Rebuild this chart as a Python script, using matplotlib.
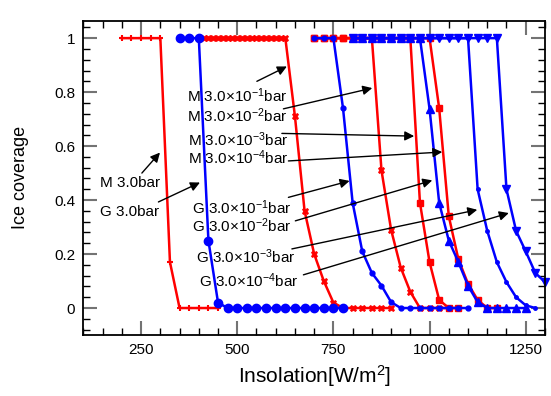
import numpy as np
import matplotlib.pyplot as plt
from matplotlib.ticker import MultipleLocator

plt.rcParams['font.family'] = ['Liberation Sans', 'DejaVu Sans']
plt.rcParams['mathtext.default'] = 'regular'

# M runs (red)
m30_x = [200, 225, 250, 275, 300, 325, 350, 375, 400, 425, 450]
m30_y = [1, 1, 1, 1, 1, 0.17, 0, 0, 0, 0, 0]

m31_x = [412.5, 425, 437.5, 450, 462.5, 475, 487.5, 500, 512.5, 525, 537.5, 550,
         562.5, 575, 587.5, 600, 612.5, 625, 650, 675, 700, 725, 750,
         775, 800, 825, 850, 875, 900]
m31_y = [1] * 18 + [0.71, 0.36, 0.20, 0.10, 0.02, 0, 0, 0, 0, 0, 0]

m32_x = [700, 725, 750, 775, 800, 825, 850, 875, 900, 925, 950, 975, 1000, 1025, 1050]
m32_y = [1, 1, 1, 1, 1, 1, 1, 0.51, 0.29, 0.15, 0.06, 0, 0, 0, 0]

m33_x = [700, 725, 750, 775, 800, 825, 850, 875, 900, 925, 950, 975, 1000, 1025, 1050, 1075]
m33_y = [1, 1, 1, 1, 1, 1, 1, 1, 1, 1, 1, 0.39, 0.17, 0.03, 0, 0]

m34_x = [700, 725, 750, 775, 800, 825, 850, 875, 900, 925, 950, 975, 1000,
         1025, 1050, 1075, 1100, 1125, 1150, 1175]
m34_y = [1] * 13 + [0.74, 0.34, 0.18, 0.09, 0.03, 0, 0]

# G runs (blue)
g30_x = [350, 375, 400, 425, 450, 475, 500, 525, 550, 575, 600, 625, 650, 675, 700, 725, 750, 775]
g30_y = [1, 1, 1, 0.25, 0.02] + [0] * 13

g31_x = [700, 725, 750, 775, 800, 825, 850, 875, 900, 925, 950, 975, 1000, 1025, 1050, 1075, 1100]
g31_y = [1, 1, 1, 0.74, 0.39, 0.21, 0.13, 0.083, 0.022, 0, 0, 0, 0, 0, 0, 0, 0]

g32_x = [800, 825, 850, 875, 900, 925, 950, 975, 1000, 1025, 1050, 1075, 1100, 1125,
         1150, 1175, 1200, 1225, 1250]
g32_y = [1] * 8 + [0.738, 0.39, 0.25, 0.17, 0.083, 0.022, 0, 0, 0, 0, 0]

g33_x = [800, 825, 850, 875, 900, 925, 950, 975, 1000, 1025, 1050, 1075, 1100,
         1125, 1150, 1175, 1200, 1225, 1250, 1275]
g33_y = [1] * 13 + [0.44, 0.286, 0.17, 0.096, 0.04, 0.01, 0]

g34_x = [800, 825, 850, 875, 900, 925, 950, 975, 1000, 1025, 1050, 1075, 1100, 1125,
         1150, 1175, 1200, 1225, 1250, 1275, 1300]
g34_y = [1] * 16 + [0.44, 0.286, 0.21, 0.13, 0.096]

fig = plt.figure(figsize=(5.51, 3.96), dpi=100)
ax = fig.add_axes([0.1514, 0.154, 0.8376, 0.794])

lw = 1.8
ax.plot(m30_x, m30_y, color='red', lw=lw, marker='+', ms=5, mew=1.5, clip_on=False)
ax.plot(m31_x, m31_y, color='red', lw=lw, marker='X', ms=5, mew=0.5, clip_on=False)
ax.plot(m32_x, m32_y, color='red', lw=lw, marker='X', ms=5, mew=0.5, clip_on=False)
ax.plot(m33_x, m33_y, color='red', lw=lw, marker='s', ms=5, clip_on=False)
ax.plot(m34_x, m34_y, color='red', lw=lw, marker='s', ms=4.5, clip_on=False)

ax.plot(g30_x, g30_y, color='blue', lw=lw, marker='o', ms=6, clip_on=False)
ax.plot(g31_x, g31_y, color='blue', lw=lw, marker='o', ms=3.5, clip_on=False)
ax.plot(g32_x, g32_y, color='blue', lw=lw, marker='^', ms=6, clip_on=False)
ax.plot(g33_x, g33_y, color='blue', lw=lw, marker='o', ms=2.5, clip_on=False)
ax.plot(g34_x, g34_y, color='blue', lw=lw, marker='v', ms=6, clip_on=False)

# labels with arrows: (text, text pos, arrow start, arrow end)
notes = [
    ('M 3.0bar', (221, 0.465), (252, 0.50), (299, 0.576)),
    ('G 3.0bar', (221, 0.356), (295, 0.393), (403, 0.465)),
    ('M 3.0×10$^{-1}$bar', (499, 0.787), (551, 0.84), (629, 0.895)),
    ('M 3.0×10$^{-2}$bar', (499, 0.711), (620, 0.738), (851, 0.815)),
    ('M 3.0×10$^{-3}$bar', (502, 0.625), (616, 0.647), (960, 0.637)),
    ('M 3.0×10$^{-4}$bar', (503, 0.557), (633, 0.545), (1033, 0.578)),
    ('G 3.0×10$^{-1}$bar', (512, 0.373), (633, 0.41), (792, 0.471)),
    ('G 3.0×10$^{-2}$bar', (512, 0.306), (651, 0.323), (1007, 0.473)),
    ('G 3.0×10$^{-3}$bar', (523, 0.192), (642, 0.219), (1124, 0.364)),
    ('G 3.0×10$^{-4}$bar', (529, 0.102), (672, 0.123), (1206, 0.352)),
]
for txt, tpos, a0, a1 in notes:
    ax.text(tpos[0], tpos[1], txt, fontsize=11, ha='center', va='center', zorder=5)
    ax.annotate('', xy=a1, xytext=a0,
                arrowprops=dict(arrowstyle='-|>', color='black', lw=1.0,
                                mutation_scale=14, shrinkA=0, shrinkB=0),
                zorder=6)

ax.set_xlim(100, 1300)
ax.set_ylim(-0.1, 1.065)
ax.xaxis.set_major_locator(MultipleLocator(250))
ax.xaxis.set_minor_locator(MultipleLocator(50))
ax.yaxis.set_major_locator(MultipleLocator(0.2))
ax.yaxis.set_minor_locator(MultipleLocator(0.04))
ax.set_yticks([0, 0.2, 0.4, 0.6, 0.8, 1])
ax.set_yticklabels(['0', '0.2', '0.4', '0.6', '0.8', '1'])
ax.set_xticks([250, 500, 750, 1000, 1250])

ax.tick_params(which='both', direction='in', top=True, right=True, labelsize=11)
ax.tick_params(which='major', length=10, width=1.5, color='0.45', pad=6)
ax.tick_params(which='minor', length=5, width=1.0, color='black')
for s in ax.spines.values():
    s.set_linewidth(1.3)

ax.set_xlabel('Insolation[W/m$^2$]', fontsize=15, labelpad=4)
ax.set_ylabel('Ice coverage', fontsize=13, labelpad=18)

plt.savefig('out.png', dpi=100)
